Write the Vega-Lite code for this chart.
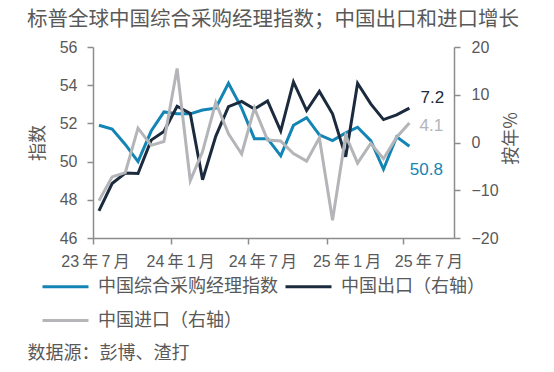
{
  "$schema": "https://vega.github.io/schema/vega-lite/v6.json",
  "width": 361,
  "height": 191,
  "autosize": {"type": "none"},
  "padding": {"left": 93, "top": 47, "right": 100, "bottom": 134},
  "background": "white",
  "title": {
    "text": "标普全球中国综合采购经理指数；中国出口和进口增长",
    "anchor": "start",
    "frame": "group",
    "dx": -66,
    "offset": 9,
    "font": "Noto Sans CJK SC",
    "fontSize": 20.5,
    "fontWeight": "normal",
    "color": "#595959"
  },
  "config": {
    "view": {"stroke": null},
    "axis": {
      "domainColor": "#8c8c8c",
      "domainWidth": 1.5,
      "tickColor": "#8c8c8c",
      "tickWidth": 1.5,
      "tickSize": 6,
      "grid": false,
      "labelFont": "Liberation Sans",
      "labelFontSize": 16,
      "labelColor": "#595959",
      "titleFont": "Noto Sans CJK SC",
      "titleFontSize": 18,
      "titleFontWeight": "normal",
      "titleColor": "#595959"
    },
    "legend": {
      "orient": "none",
      "direction": "horizontal",
      "legendX": -52,
      "legendY": 215,
      "columns": 2,
      "symbolType": "stroke",
      "symbolSize": 2116,
      "symbolStrokeWidth": 3,
      "labelFont": "Noto Sans CJK SC",
      "labelFontSize": 18,
      "labelColor": "#595959",
      "labelOffset": 8,
      "labelLimit": 400,
      "columnPadding": 1,
      "rowPadding": 0,
      "padding": 0
    }
  },
  "data": {
    "values": [
      {"date": "2023-07-15", "pmi": 51.9, "exp": -14.3, "imp": -12.2},
      {"date": "2023-08-15", "pmi": 51.7, "exp": -8.6, "imp": -7.2},
      {"date": "2023-09-15", "pmi": 50.9, "exp": -6.4, "imp": -6.3},
      {"date": "2023-10-15", "pmi": 50.0, "exp": -6.5, "imp": 3.0},
      {"date": "2023-11-15", "pmi": 51.6, "exp": 0.5, "imp": -0.6},
      {"date": "2023-12-15", "pmi": 52.6, "exp": 2.3, "imp": 0.2},
      {"date": "2024-01-15", "pmi": 52.5, "exp": 7.6, "imp": 15.5},
      {"date": "2024-02-15", "pmi": 52.5, "exp": 6.1, "imp": -8.0},
      {"date": "2024-03-15", "pmi": 52.7, "exp": -7.8, "imp": -1.9},
      {"date": "2024-04-15", "pmi": 52.8, "exp": 1.3, "imp": 8.4},
      {"date": "2024-05-15", "pmi": 54.1, "exp": 7.5, "imp": 1.8},
      {"date": "2024-06-15", "pmi": 52.8, "exp": 8.6, "imp": -2.4},
      {"date": "2024-07-15", "pmi": 51.2, "exp": 7.0, "imp": 7.2},
      {"date": "2024-08-15", "pmi": 51.2, "exp": 8.7, "imp": 0.5},
      {"date": "2024-09-15", "pmi": 50.3, "exp": 2.4, "imp": 0.3},
      {"date": "2024-10-15", "pmi": 51.9, "exp": 12.7, "imp": -2.3},
      {"date": "2024-11-15", "pmi": 52.3, "exp": 6.7, "imp": -3.9},
      {"date": "2024-12-15", "pmi": 51.4, "exp": 10.7, "imp": 1.0},
      {"date": "2025-01-15", "pmi": 51.1, "exp": 6.0, "imp": -16.3},
      {"date": "2025-02-15", "pmi": 51.5, "exp": -3.0, "imp": 1.5},
      {"date": "2025-03-15", "pmi": 51.8, "exp": 12.4, "imp": -4.3},
      {"date": "2025-04-15", "pmi": 51.1, "exp": 8.1, "imp": -0.2},
      {"date": "2025-05-15", "pmi": 49.6, "exp": 4.8, "imp": -3.4},
      {"date": "2025-06-15", "pmi": 51.3, "exp": 5.8, "imp": 1.1},
      {"date": "2025-07-15", "pmi": 50.8, "exp": 7.2, "imp": 4.1}
    ]
  },
  "encoding": {
    "x": {
      "field": "date",
      "type": "temporal",
      "scale": {
        "type": "utc",
        "domain": [
          {"year": 2023, "month": 7, "date": 1, "utc": true},
          {"year": 2025, "month": 10, "date": 28, "utc": true}
        ],
        "nice": false
      },
      "axis": {
        "values": [
          {"year": 2023, "month": 7, "date": 1, "utc": true},
          {"year": 2024, "month": 1, "date": 1, "utc": true},
          {"year": 2024, "month": 7, "date": 1, "utc": true},
          {"year": 2025, "month": 1, "date": 1, "utc": true},
          {"year": 2025, "month": 7, "date": 1, "utc": true}
        ],
        "format": "%y\u2009年\u2009%-m\u2009月",
        "labelFont": "Liberation Sans, Noto Sans CJK SC",
        "labelBaseline": "middle",
        "labelPadding": 17,
        "labelFlush": false,
        "labelOverlap": false,
        "labelOffset": {
          "condition": [
            {"test": "utcyear(datum.value) == 2023", "value": 2},
            {"test": "utcyear(datum.value) == 2024 && utcmonth(datum.value) == 0", "value": 9},
            {"test": "utcyear(datum.value) == 2024 && utcmonth(datum.value) == 6", "value": 14},
            {"test": "utcyear(datum.value) == 2025 && utcmonth(datum.value) == 0", "value": 20},
            {"test": "utcyear(datum.value) == 2025 && utcmonth(datum.value) == 6", "value": 25}
          ],
          "value": 0
        },
        "title": "数据源：彭博、渣打",
        "titleX": -66,
        "titleY": 115,
        "titleAlign": "left",
        "titleBaseline": "middle",
        "titleAnchor": "start",
        "titleFontSize": 18
      }
    }
  },
  "layer": [
    {
      "encoding": {
        "y": {
          "field": "pmi",
          "type": "quantitative",
          "scale": {"domain": [46, 56], "nice": false, "zero": false},
          "axis": {
            "orient": "left",
            "values": [46, 48, 50, 52, 54, 56],
            "labelPadding": 10,
            "title": "指数",
            "titleAngle": -90,
            "titleX": -55,
            "titleY": 95.5,
            "titleAlign": "center",
            "titleBaseline": "middle"
          }
        }
      },
      "layer": [
        {
          "mark": {"type": "line", "strokeWidth": 3},
          "encoding": {
            "color": {
              "datum": "中国综合采购经理指数",
              "type": "nominal",
              "scale": {
                "domain": ["中国综合采购经理指数", "中国出口（右轴）", "中国进口（右轴）"],
                "range": ["#1385b5", "#1b2b3d", "#b4b5b8"]
              },
              "legend": {"title": null}
            }
          }
        },
        {
          "transform": [{"filter": "utcyear(datum.date) == 2025 && utcmonth(datum.date) == 6"}],
          "mark": {"type": "text", "font": "Liberation Sans", "fontSize": 17, "color": "#1385b5", "align": "center", "baseline": "middle", "dx": 17, "dy": 24},
          "encoding": {"text": {"field": "pmi", "type": "quantitative", "format": ".1f"}}
        }
      ]
    },
    {
      "encoding": {
        "y": {
          "field": "exp",
          "type": "quantitative",
          "scale": {"domain": [-20, 20], "nice": false, "zero": false},
          "axis": {
            "orient": "right",
            "values": [-20, -10, 0, 10, 20],
            "labelPadding": 11,
            "title": "按年%",
            "titleAngle": -90,
            "titleX": 57,
            "titleY": 91,
            "titleAlign": "center",
            "titleBaseline": "middle"
          }
        }
      },
      "layer": [
        {
          "mark": {"type": "line", "strokeWidth": 3},
          "encoding": {
            "color": {"datum": "中国出口（右轴）", "type": "nominal"}
          }
        },
        {
          "mark": {"type": "line", "strokeWidth": 3},
          "encoding": {
            "y": {"field": "imp", "type": "quantitative"},
            "color": {"datum": "中国进口（右轴）", "type": "nominal"}
          }
        },
        {
          "transform": [{"filter": "utcyear(datum.date) == 2025 && utcmonth(datum.date) == 6"}],
          "mark": {"type": "text", "font": "Liberation Sans", "fontSize": 17, "color": "#1b2b3d", "align": "center", "baseline": "middle", "dx": 23, "dy": -10},
          "encoding": {"text": {"field": "exp", "type": "quantitative", "format": ".1f"}}
        },
        {
          "transform": [{"filter": "utcyear(datum.date) == 2025 && utcmonth(datum.date) == 6"}],
          "mark": {"type": "text", "font": "Liberation Sans", "fontSize": 17, "color": "#b4b5b8", "align": "center", "baseline": "middle", "dx": 22, "dy": 3},
          "encoding": {
            "y": {"field": "imp", "type": "quantitative"},
            "text": {"field": "imp", "type": "quantitative", "format": ".1f"}
          }
        }
      ]
    }
  ],
  "resolve": {"scale": {"y": "independent"}}
}
